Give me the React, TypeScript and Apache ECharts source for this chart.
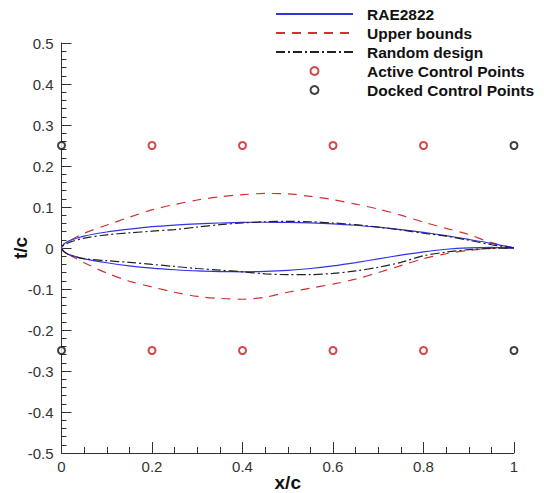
import React, { useEffect, useRef } from "react";
import * as echarts from "echarts";

// chordwise stations shared by all profiles
const xStations = [0, 0.005, 0.01, 0.02, 0.05, 0.1, 0.15, 0.2, 0.25, 0.3, 0.35, 0.4, 0.45, 0.5, 0.55, 0.6, 0.65, 0.7, 0.75, 0.8, 0.85, 0.9, 0.95, 1.0];

const raeUpper = [0, 0.0095, 0.0135, 0.019, 0.029, 0.039, 0.046, 0.052, 0.056, 0.059, 0.061, 0.0625, 0.0628, 0.0625, 0.0612, 0.059, 0.0555, 0.0508, 0.045, 0.038, 0.03, 0.021, 0.0115, 0.0006];
const raeLower = [0, -0.009, -0.0125, -0.0175, -0.0265, -0.036, -0.0435, -0.049, -0.053, -0.056, -0.0575, -0.058, -0.057, -0.0545, -0.05, -0.0435, -0.0355, -0.0265, -0.0175, -0.0095, -0.003, 0.0005, 0.0015, -0.0006];

const boundUpper = [0, 0.009, 0.013, 0.019, 0.036, 0.056, 0.075, 0.093, 0.106, 0.117, 0.125, 0.13, 0.133, 0.132, 0.126, 0.118, 0.107, 0.095, 0.08, 0.063, 0.048, 0.033, 0.013, 0];
const boundLower = [0, -0.008, -0.012, -0.018, -0.036, -0.061, -0.081, -0.095, -0.108, -0.118, -0.123, -0.125, -0.12, -0.108, -0.098, -0.088, -0.076, -0.06, -0.043, -0.026, -0.014, -0.006, -0.001, 0];

const randUpper = [0, 0.007, 0.01, 0.015, 0.024, 0.032, 0.037, 0.041, 0.045, 0.051, 0.057, 0.061, 0.064, 0.065, 0.064, 0.061, 0.057, 0.051, 0.044, 0.036, 0.029, 0.019, 0.008, 0];
const randLower = [0, -0.008, -0.012, -0.018, -0.026, -0.031, -0.035, -0.04, -0.045, -0.05, -0.054, -0.058, -0.063, -0.065, -0.065, -0.062, -0.056, -0.047, -0.035, -0.019, -0.01, -0.004, -0.001, 0];

const activeX = [0.2, 0.4, 0.6, 0.8];
const dockedX = [0, 1];
const cpY = [0.25, -0.25];

const seriesNames = ["RAE2822", "Upper bounds", "Random design", "Active Control Points", "Docked Control Points"];

function loop(upper: number[], lower: number[]): number[][] {
  const pts: number[][] = [];
  for (let i = xStations.length - 1; i >= 0; i--) pts.push([xStations[i], upper[i]]);
  for (let i = 1; i < xStations.length; i++) pts.push([xStations[i], lower[i]]);
  return pts;
}

function points(xs: number[]): number[][] {
  const pts: number[][] = [];
  cpY.forEach((y) => xs.forEach((x) => pts.push([x, y])));
  return pts;
}

export default function App() {
  const ref = useRef<HTMLDivElement>(null);
  useEffect(() => {
    if (!ref.current) return;
    const chart = echarts.init(ref.current, undefined, { renderer: "svg" });
    const axisColor = "#333";
    chart.setOption({
      animation: false,
      textStyle: { fontFamily: "Liberation Sans, Arial, sans-serif" },
      grid: { left: 61.5, right: 30, top: 43, bottom: 40, containLabel: false, outerBoundsMode: "none" },
      legend: {
        orient: "vertical",
        left: 275,
        top: 6,
        padding: 0,
        itemWidth: 77,
        itemHeight: 8,
        itemGap: 3,
        align: "left",
        textStyle: { fontSize: 15.5, fontWeight: "bold", color: "#111", lineHeight: 16, padding: [0, 0, 0, 9] },
        data: seriesNames.map((n, i) => (i < 3 ? { name: n, itemStyle: { opacity: 0 } } : { name: n })),
      },
      xAxis: {
        type: "value",
        min: 0,
        max: 1,
        interval: 0.2,
        name: "x/c",
        nameLocation: "middle",
        nameGap: 20,
        nameMoveOverlap: false,
        nameTextStyle: { fontSize: 19, fontWeight: "bold", color: "#111" },
        axisLine: { show: true, onZero: false, lineStyle: { color: axisColor, width: 1 } },
        axisTick: { show: true, inside: true, length: 11, lineStyle: { color: axisColor } },
        minorTick: { show: true, splitNumber: 4, length: 6, lineStyle: { color: axisColor } },
        axisLabel: { fontSize: 15, color: "#333", margin: 6 },
        splitLine: { show: false },
      },
      yAxis: {
        type: "value",
        min: -0.5,
        max: 0.5,
        interval: 0.1,
        name: "t/c",
        nameLocation: "middle",
        nameGap: 32,
        nameMoveOverlap: false,
        nameRotate: 90,
        nameTextStyle: { fontSize: 19, fontWeight: "bold", color: "#111" },
        axisLine: { show: true, onZero: false, lineStyle: { color: axisColor, width: 1 } },
        axisTick: { show: true, inside: true, length: 10, lineStyle: { color: axisColor } },
        minorTick: { show: true, splitNumber: 5, length: 5, lineStyle: { color: axisColor } },
        axisLabel: { fontSize: 15, color: "#333", margin: 8 },
        splitLine: { show: false },
      },
      series: [
        {
          name: seriesNames[0],
          type: "line",
          data: loop(raeUpper, raeLower),
          symbol: "none",
          smooth: 0.3,
          lineStyle: { color: "#3333e6", width: 1.2, type: "solid" },
          itemStyle: { color: "#3333e6" },
          z: 3,
        },
        {
          name: seriesNames[1],
          type: "line",
          data: loop(boundUpper, boundLower),
          symbol: "none",
          smooth: 0.3,
          lineStyle: { color: "#d03030", width: 1.2, type: [9, 7] },
          itemStyle: { color: "#d03030" },
          z: 2,
        },
        {
          name: seriesNames[2],
          type: "line",
          data: loop(randUpper, randLower),
          symbol: "none",
          smooth: 0.3,
          lineStyle: { color: "#222", width: 1.2, type: [9, 3, 2, 3] },
          itemStyle: { color: "#222" },
          z: 4,
        },
        {
          name: seriesNames[3],
          type: "scatter",
          data: points(activeX),
          symbol: "emptyCircle",
          symbolSize: 7,
          itemStyle: { color: "#cc1a1a", borderColor: "#cc1a1a", borderWidth: 1.6 },
          z: 5,
        },
        {
          name: seriesNames[4],
          type: "scatter",
          data: points(dockedX),
          symbol: "emptyCircle",
          symbolSize: 7,
          clip: false,
          itemStyle: { color: "#111", borderColor: "#111", borderWidth: 1.6 },
          z: 5,
        },
      ],
    });
    return () => chart.dispose();
  }, []);
  return <div ref={ref} style={{ width: 544, height: 493, position: "absolute", left: 0, top: 0, background: "#fff" }} />;
}
